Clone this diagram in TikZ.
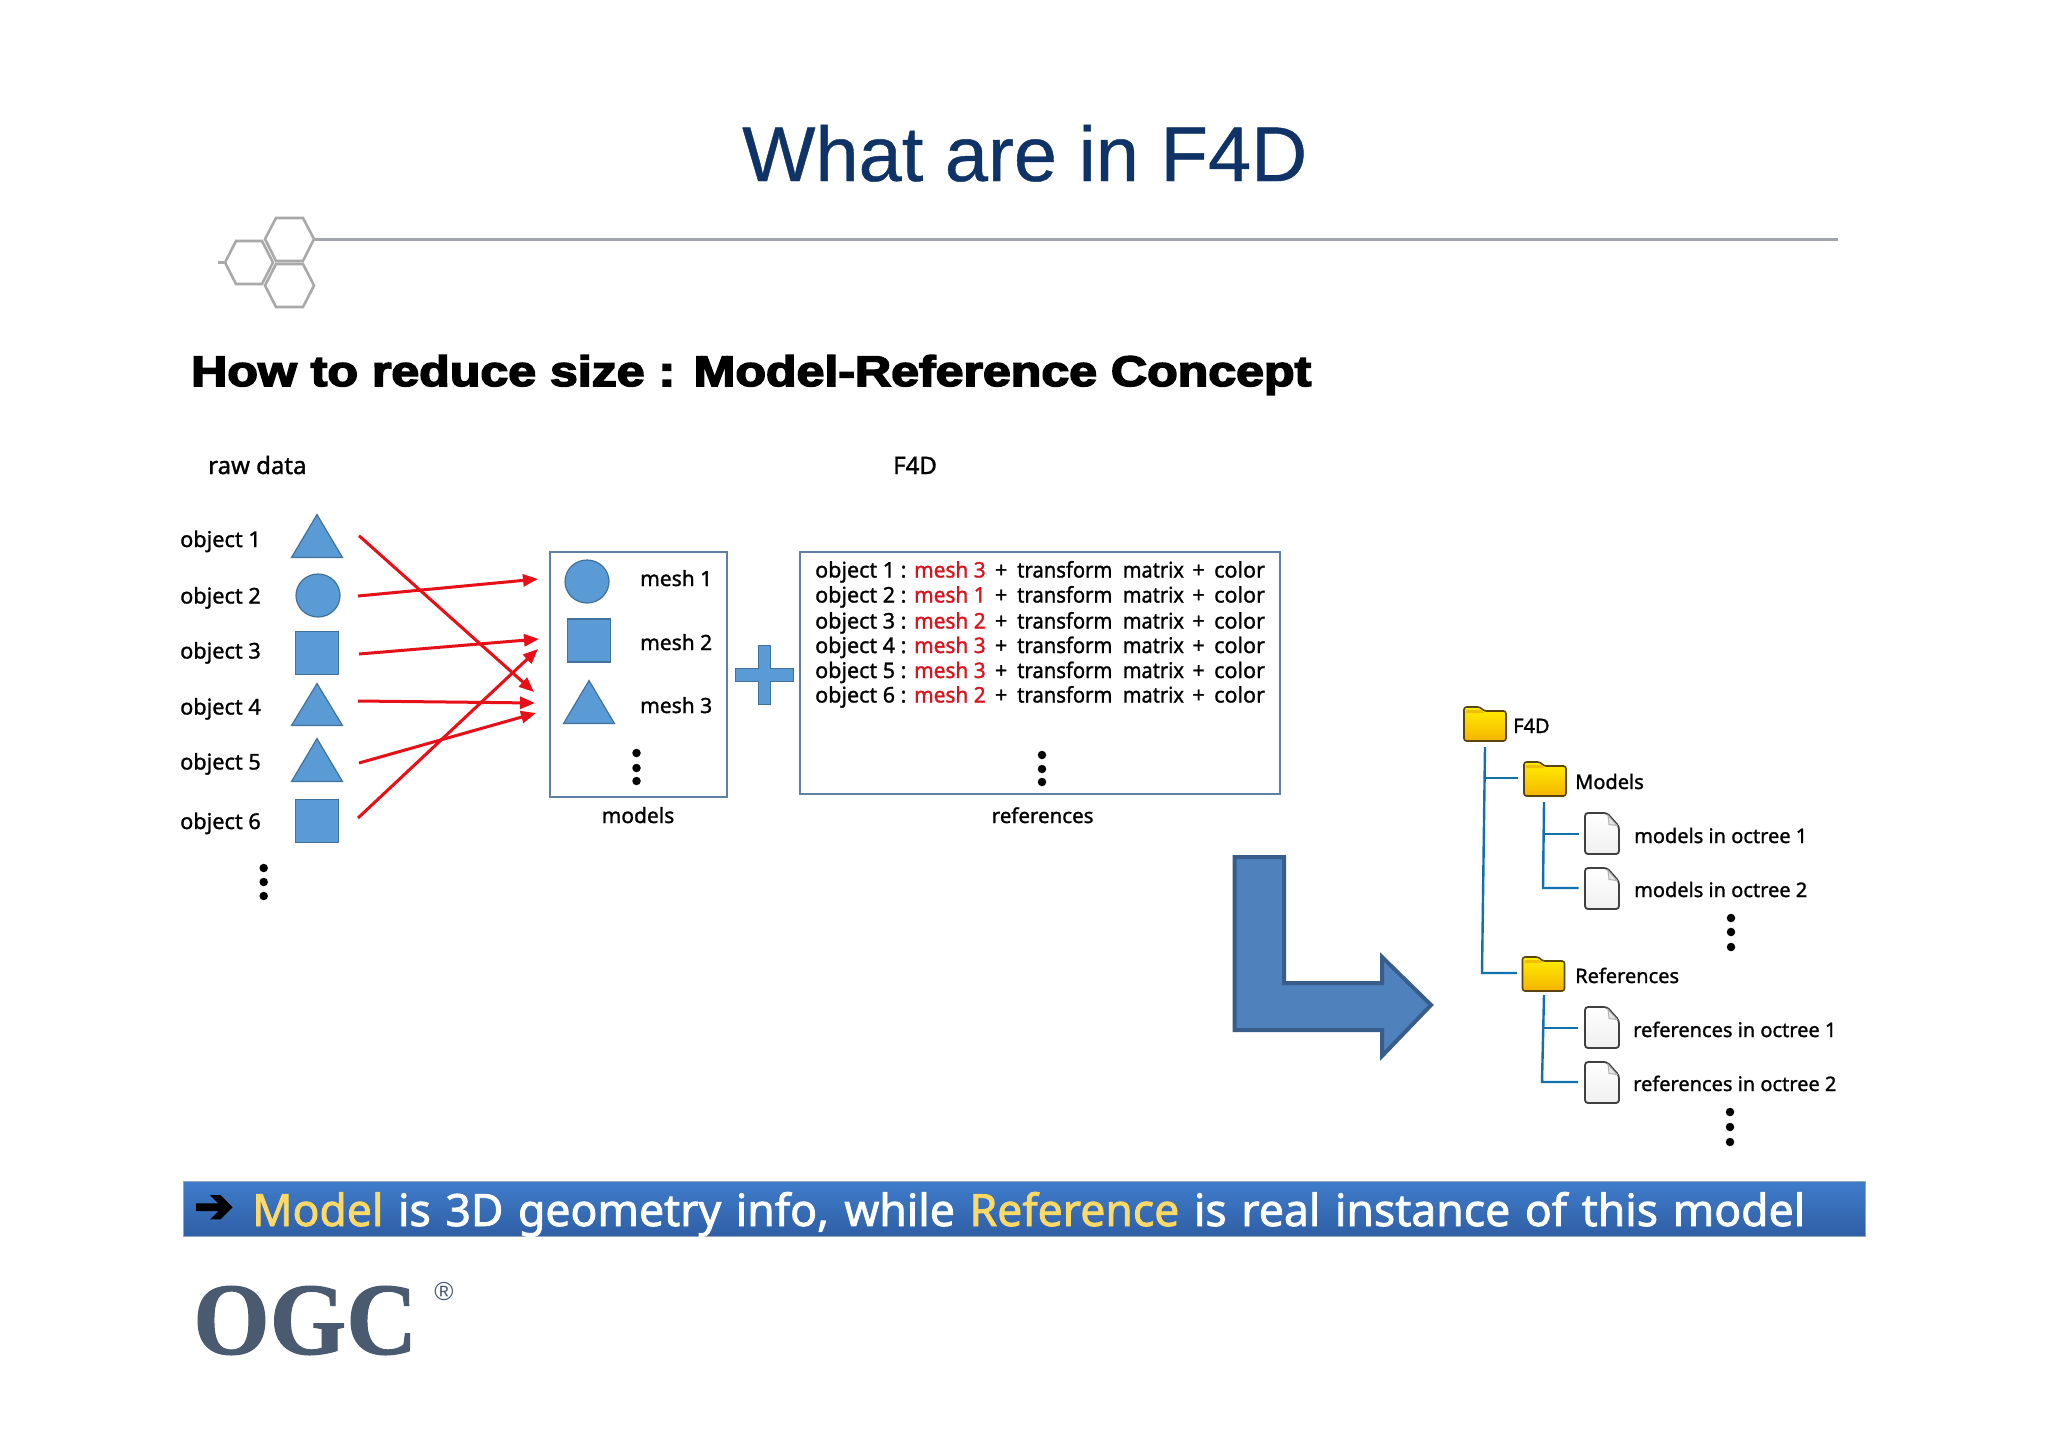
\documentclass[tikz,border=0pt]{standalone}
\usepackage{fontspec}
\usepackage{graphicx}
\usetikzlibrary{arrows.meta,shapes.geometric,positioning}
\setmainfont{Liberation Sans}
\newfontface\mg[FakeBold=1.3]{Noto Sans}
\newfontface\bn[FakeBold=1.8]{Noto Sans}
\newfontface\ttl[FakeBold=0.5]{Liberation Sans}
\newfontface\plain{Liberation Sans}
\newfontface\hdg[FakeBold=3.5]{Liberation Sans Bold}
\newfontface\lgo[FakeBold=1]{Liberation Serif Bold}
\newfontface\djv[FakeBold=5]{DejaVu Sans}
\definecolor{shapefill}{HTML}{5B9BD5}
\definecolor{shapeline}{HTML}{41719C}
\definecolor{boxline}{HTML}{5F80A6}
\definecolor{treeline}{HTML}{1170B0}
\definecolor{arrowred}{HTML}{E81018}
\definecolor{meshred}{HTML}{D9141E}
\definecolor{titleblue}{HTML}{0F3366}
\definecolor{rulegray}{HTML}{A3A5AD}
\definecolor{hexgray}{HTML}{A9A9A9}
\definecolor{bigfill}{HTML}{4F81BD}
\definecolor{bigline}{HTML}{385D8A}
\definecolor{bantop}{HTML}{3F7CCB}
\definecolor{banbot}{HTML}{2F5FA5}
\definecolor{bantext}{HTML}{FFD966}
\definecolor{logo}{HTML}{4A5A70}
\definecolor{folderedge}{HTML}{5A4510}
\definecolor{foldertop}{HTML}{FFF000}
\definecolor{folderbot}{HTML}{F5B400}
\definecolor{foldertab}{HTML}{F0C000}
\newcommand{\threedots}[5]{%
  \node[dotmark] (#1a) at (#2,#3) {};
  \node[dotmark] (#1b) at (#2,#4) {};
  \node[dotmark] (#1c) at (#2,#5) {};}
\newcommand{\refline}[4]{%
  \node[lab,font=\mg\fontsize{21.5}{25}\selectfont] (#1) at (815,#2) {\makebox[99pt][l]{object #3 :}\makebox[71pt][l]{\textcolor{meshred}{\scalebox{.97}[1]{mesh #4}}}\makebox[32pt][c]{+}\makebox[105.6pt][l]{\scalebox{.94}[1]{transform}}\makebox[60.4pt][l]{\scalebox{.93}[1]{matrix}}\makebox[31pt][c]{+}color};}
\tikzset{
  lab/.style={inner sep=0pt,anchor=base west,font=\mg\fontsize{21}{25}\selectfont,text=black},
  objlab/.style={lab,font=\mg\fontsize{21.7}{25}\selectfont},
  bigl/.style={lab,font=\mg\fontsize{24}{28}\selectfont},
  treelab/.style={lab,font=\mg\fontsize{20}{24}\selectfont},
  labc/.style={lab,anchor=base},
  dotmark/.style={circle,fill=black,inner sep=0pt,minimum size=8.5pt},
  sq/.style={rectangle,draw=shapeline,fill=shapefill,line width=1.2pt,minimum width=43pt,minimum height=43pt,inner sep=0pt},
  circ/.style={ellipse,draw=shapeline,fill=shapefill,line width=1.2pt,minimum width=44pt,minimum height=43pt,inner sep=0pt},
  tri/.style={isosceles triangle,isosceles triangle stretches,shape border rotate=90,draw=shapeline,fill=shapefill,line width=1.2pt,minimum width=51pt,minimum height=43pt,inner sep=0pt,anchor=apex},
  mapline/.style={draw=arrowred,line width=3pt,-{Triangle[length=15pt,width=12pt]}},
  tree/.style={draw=treeline,line width=2.4pt},
  hex/.style={draw=hexgray,line width=2.6pt},
  container/.style={draw=boxline,line width=1.5pt,fill=white},
  folder/.pic={
    \path[draw=folderedge,line width=1.6pt,rounded corners=2.5pt,top color=foldertop,bottom color=folderbot]
      (-21,17) -- (-21,-17) -- (-5,-17) -- (-1,-13) -- (21,-13) -- (21,17) -- cycle;
    \fill[foldertab] (-19,-14) -- (-3,-14) -- (-1,-11) -- (-19,-11) -- cycle;
  },
  filepage/.pic={
    \path[draw=black!75,line width=1.8pt,rounded corners=3pt,top color=white,bottom color=black!6]
      (-17,-20.5) -- (5,-20.5) -- (17,-7) -- (17,20.5) -- (-17,20.5) -- cycle;
    \path[draw=black!30,line width=1pt,fill=black!10] (6,-18) -- (7,-9) -- (15,-8) -- cycle;
  }
}
\begin{document}
\begin{tikzpicture}[x=1pt,y=-1pt]
\useasboundingbox (0,0) rectangle (2048,1448);
\fill[white] (0,0) rectangle (2048,1448);

% title
\node[inner sep=0pt,anchor=base west,text=titleblue] (title) at (742,181) {\resizebox{565pt}{!}{\ttl\fontsize{78}{90}\selectfont What are in F4D}};
\coordinate (ruleL) at (314,239); \coordinate (ruleR) at (1838,239);
\draw[draw=rulegray,line width=3pt] (ruleL) -- (ruleR);
\draw[hex] (265,239) -- (276,218) -- (303,218) -- (314,239) -- (303,261) -- (276,261) -- cycle;
\draw[hex] (225,262.5) -- (236,241) -- (262,241) -- (273,262.5) -- (262,284) -- (236,284) -- cycle;
\draw[hex] (265,285.5) -- (276,264) -- (303,264) -- (314,285.5) -- (303,307) -- (276,307) -- cycle;
\draw[hex] (218,262.5) -- (225,262.5);

\node[inner sep=0pt,anchor=base west] (heading) at (191,386) {\resizebox{1120pt}{31pt}{\hdg\fontsize{41}{50}\selectfont How to reduce size : Model-Reference Concept}};

% column labels
\node[bigl] (rawlab) at (208,474) {raw data};
\node[bigl] (f4dlab) at (893,474) {F4D};

% raw objects
\node[objlab] (o1) at (180,547) {object 1};
\node[objlab] (o2) at (180,603.5) {object 2};
\node[objlab] (o3) at (180,658.5) {object 3};
\node[objlab] (o4) at (180,714.5) {object 4};
\node[objlab] (o5) at (180,769.5) {object 5};
\node[objlab] (o6) at (180,829) {object 6};
\node[tri] (s1) at (317,513) {};
\node[circ] (s2) at (318,595.5) {};
\node[sq] (s3) at (317,653) {};
\node[tri,minimum height=42pt] (s4) at (317,682) {};
\node[tri] (s5) at (317,737) {};
\node[sq] (s6) at (317,821) {};
\threedots{da}{263.7}{868}{882}{896}

% models box
\node[container,anchor=north west,minimum width=177pt,minimum height=245pt,inner sep=0pt] (modelsbox) at (549,551) {};
\node[circ] (m1) at (587,581.5) {};
\node[sq] (m2) at (588.7,640.5) {};
\node[tri] (m3) at (589,679) {};
\node[lab] (ml1) at (640,586) {mesh 1};
\node[lab] (ml2) at (640,650) {mesh 2};
\node[lab] (ml3) at (640,713) {mesh 3};
\threedots{db}{636.5}{753}{768}{781}
\node[labc] (modelslab) at (638,823) {models};

% plus
\fill[shapefill,draw=shapeline,line width=.8pt] (758.6,645) -- (770.5,645) -- (770.5,668) -- (793.5,668) -- (793.5,681) -- (770.5,681) -- (770.5,704) -- (758.6,704) -- (758.6,681) -- (735,681) -- (735,668) -- (758.6,668) -- cycle;

% references box
\node[container,anchor=north west,minimum width=480pt,minimum height=242pt,inner sep=0pt] (refsbox) at (799,551) {};
\refline{r1}{577.5}{1}{3}
\refline{r2}{602.5}{2}{1}
\refline{r3}{628.5}{3}{2}
\refline{r4}{653}{4}{3}
\refline{r5}{678}{5}{3}
\refline{r6}{702.5}{6}{2}
\threedots{dc}{1042}{755}{769}{782}
\node[labc,font=\mg\fontsize{20.5}{25}\selectfont] (refslab) at (1042.6,823) {references};

% mapping arrows
\coordinate (a1) at (359,535.7); \coordinate (b1) at (534,692);
\coordinate (a2) at (358,596);   \coordinate (b2) at (538,579);
\coordinate (a3) at (359,654);   \coordinate (b3) at (539,639);
\coordinate (a4) at (358,701);   \coordinate (b4) at (535,703);
\coordinate (a5) at (359,763);   \coordinate (b5) at (536,713);
\coordinate (a6) at (358,818);   \coordinate (b6) at (538,649);
\draw[mapline] (a1) -- (b1);
\draw[mapline] (a2) -- (b2);
\draw[mapline] (a3) -- (b3);
\draw[mapline] (a4) -- (b4);
\draw[mapline] (a5) -- (b5);
\draw[mapline] (a6) -- (b6);

% big arrow
\draw[fill=bigfill,draw=bigline,line width=4pt,miter limit=4] (1234.5,857) -- (1284,857) -- (1284,983) -- (1382,983) -- (1382,957) -- (1431,1005) -- (1382,1056) -- (1382,1030) -- (1234.5,1030) -- cycle;

% tree
\pic at (1485,724) {folder};
\node[treelab] (t0) at (1513,733) {F4D};
\pic at (1545,779) {folder};
\node[treelab] (t1) at (1575,789) {Models};
\pic at (1602,833.5) {filepage};
\node[treelab] (t2) at (1634,843) {models in octree 1};
\pic at (1602,888.5) {filepage};
\node[treelab] (t3) at (1634,897) {models in octree 2};
\threedots{dd}{1731}{918}{932}{947}
\pic at (1543.5,974) {folder};
\node[treelab] (t4) at (1575,983) {References};
\pic at (1602,1027.5) {filepage};
\node[treelab] (t5) at (1633,1037) {references in octree 1};
\pic at (1602,1082.5) {filepage};
\node[treelab] (t6) at (1633,1091) {references in octree 2};
\threedots{de}{1730}{1112}{1127}{1142}

\coordinate (u0) at (1485,747); \coordinate (u1) at (1482,973); \coordinate (u2) at (1517,973);
\coordinate (u3) at (1485,778); \coordinate (u4) at (1518,778);
\draw[tree] (u0) -- (u1) -- (u2);
\draw[tree] (u3) -- (u4);
\coordinate (v0) at (1544,802); \coordinate (v1) at (1543,888); \coordinate (v2) at (1578.6,888);
\coordinate (v3) at (1544,834); \coordinate (v4) at (1578.6,834);
\draw[tree] (v0) -- (v1) -- (v2);
\draw[tree] (v3) -- (v4);
\coordinate (w0) at (1544,995); \coordinate (w1) at (1542,1082); \coordinate (w2) at (1578,1082);
\coordinate (w3) at (1544,1028); \coordinate (w4) at (1578,1028);
\draw[tree] (w0) -- (w1) -- (w2);
\draw[tree] (w3) -- (w4);

% banner
\node[anchor=north west,minimum width=1682pt,minimum height=55pt,inner sep=0pt,top color=bantop,bottom color=banbot,draw=boxline!70,line width=.8pt] (banner) at (183,1181) {};
\node[inner sep=0pt,anchor=center,text=black] (banarrow) at (214,1209) {\djv\fontsize{46}{50}\selectfont ➔};
\node[inner sep=0pt,anchor=base west,text=white] (bantxt) at (252,1226) {\makebox[1553pt][s]{\bn\fontsize{44.5}{50}\selectfont\textcolor{bantext}{Model} is 3D geometry info, while \textcolor{bantext}{Reference} is real instance of this model}};

% logo
\node[inner sep=0pt,anchor=base west,text=logo] (ogc) at (193,1354) {\resizebox{224pt}{68pt}{\lgo\fontsize{100}{110}\selectfont OGC}};
\node[inner sep=0pt,text=logo] (reg) at (444,1292) {\plain\fontsize{26}{28}\selectfont ®};
\end{tikzpicture}
\end{document}
